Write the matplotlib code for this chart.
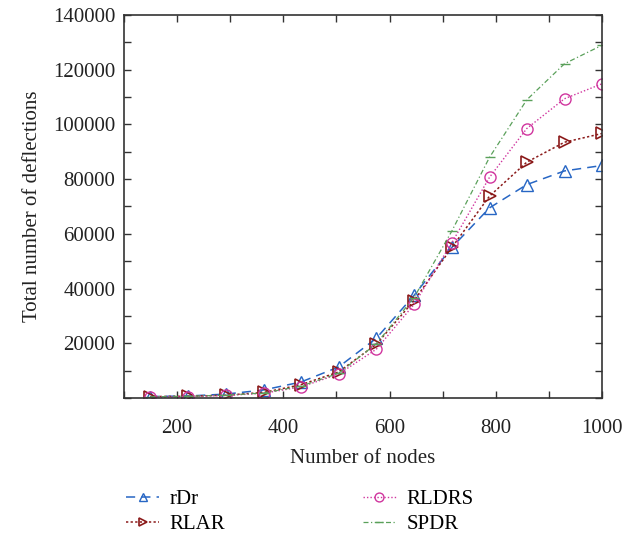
import matplotlib
matplotlib.use("Agg")
import matplotlib.pyplot as plt
from matplotlib.ticker import MultipleLocator, FuncFormatter

plt.rcParams['font.family'] = ['Liberation Serif', 'DejaVu Serif']
plt.rcParams['font.size'] = 15

# Data
nodes = [150, 221, 292, 363, 433, 504, 575, 646, 717, 788, 858, 929, 1000]
rdr = [500, 700, 1400, 2900, 5800, 11300, 21800, 37500, 55000, 69500, 78000, 83000, 85000]
rlar = [500, 600, 1000, 2000, 4800, 9500, 19600, 35600, 55000, 73800, 86200, 93500, 96700]
rldrs = [300, 500, 900, 1700, 4000, 8700, 17800, 34200, 56700, 80700, 98500, 109400, 114900]
spdr = [400, 600, 1000, 1800, 4300, 9000, 19800, 36700, 61000, 88000, 109000, 122200, 129000]

fig = plt.figure(figsize=(6.38, 5.37), dpi=100)
ax = fig.add_axes([0.194, 0.259, 0.750, 0.713])

ax.plot(nodes, rdr, color='#2766c4', ls=(0, (6, 4)), lw=1.1, marker='^', ms=8,
        mfc='none', mec='#2766c4', mew=1.0, label='rDr')
ax.plot(nodes, rlar, color='#8b1a1a', ls=(0, (1.5, 1.5)), lw=1.1, marker='>', ms=8,
        mfc='none', mec='#8b1a1a', mew=1.2, label='RLAR')
ax.plot(nodes, rldrs, color='#d0359e', ls=(0, (1, 1.5)), lw=1.0, marker='o', ms=8,
        mfc='none', mec='#d0359e', mew=1.0, label='RLDRS')
ax.plot(nodes, spdr, color='#5aa05a', ls=(0, (4, 2, 1, 2)), lw=0.9, marker='_', ms=7,
        mec='#5aa05a', mew=1.0, label='SPDR')

ax.set_xlim(100, 1000)
ax.set_ylim(0, 140000)
ax.xaxis.set_major_locator(MultipleLocator(200))
ax.xaxis.set_minor_locator(MultipleLocator(100))
ax.yaxis.set_major_locator(MultipleLocator(20000))
ax.yaxis.set_minor_locator(MultipleLocator(10000))
ax.yaxis.set_major_formatter(FuncFormatter(lambda v, p: '' if v == 0 else f'{v:.0f}'))
ax.tick_params(which='both', direction='in', top=True, right=True, length=5, width=1.0,
               color='#333333', labelcolor='#222222')
ax.tick_params(axis='x', pad=15)
ax.tick_params(axis='y', pad=6)
for s in ax.spines.values():
    s.set_color('#333333')
    s.set_linewidth(1.2)

ax.set_xlabel('Number of nodes', color='#222222', labelpad=8)
ax.set_ylabel('Total number of deflections', color='#222222', labelpad=8)

fig.legend(loc='upper left', bbox_to_anchor=(0.168, 0.123), ncol=2, frameon=False,
           columnspacing=6.6, handlelength=1.6, handletextpad=0.5, labelspacing=0.25,
           markerscale=0.8)

fig.savefig('out.png', dpi=100)
